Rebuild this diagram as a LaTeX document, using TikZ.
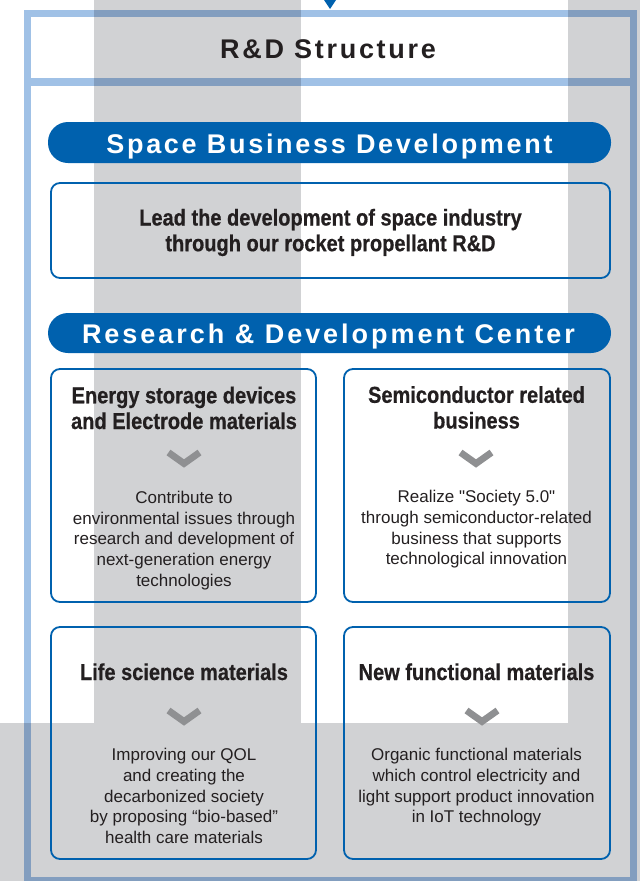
\documentclass[tikz,border=0pt]{standalone}
\usepackage{fontspec}
\setmainfont{Liberation Sans}[Ligatures=TeXOff]
\newfontfamily\trackfont{Liberation Sans}[LetterSpace=10]
\newfontfamily\trackwide{Liberation Sans}[LetterSpace=11]
\newfontfamily\condfont{Liberation Sans}[FakeStretch=0.87, FakeBold=0.6]

\definecolor{rdblue}{HTML}{0061AE}
\definecolor{framecol}{HTML}{A0C1E6}
\definecolor{bandcol}{HTML}{D1D2D4}
\definecolor{chevgray}{HTML}{8F9092}
\definecolor{ink}{HTML}{231F20}

\begin{document}
\begin{tikzpicture}[x=1pt,y=-1pt,
  pill/.style={fill=rdblue, rounded corners=20, minimum width=563,
    minimum height=41, inner sep=0},
  pilltext/.style={text=white, anchor=base, inner sep=0,
    font=\trackfont\bfseries\fontsize{27}{32}\selectfont},
  card/.style={draw=rdblue, line width=1.8, rounded corners=9, inner sep=0},
  head/.style={font=\condfont\bfseries\fontsize{23}{25.7}\selectfont, text=ink,
    align=center, anchor=base, inner sep=0},
  body/.style={font=\fontsize{17}{20.7}\selectfont, text=ink,
    align=center, anchor=base, inner sep=0},
  chev/.style={draw=chevgray, line width=6.8},
  titletext/.style={font=\trackfont\bfseries\fontsize{27}{32}\selectfont, text=ink,
    anchor=base, inner sep=0}
]
\useasboundingbox (0,0) rectangle (640,881);

% outer frame and title separator
\draw[framecol, line width=7] (27.5,13.5) rectangle (633.5,880.5);
\fill[framecol] (28,78) rectangle (635,86);

% background bands, multiplied over the frame
\begin{scope}[blend mode=multiply]
  \fill[bandcol] (94,0) rectangle (301,723);
  \fill[bandcol] (568,0) rectangle (640,723);
  \fill[bandcol] (0,723) rectangle (640,881);
\end{scope}

% incoming arrow head
\fill[rdblue] (324,0) -- (336,0) -- (330,9) -- cycle;

% title
\node[titletext] (title) at (328,58) {R\&D Structure};

% space business (multi-line texts are placed by the baseline of their last line)
\node[pill] (space) at (329.5,142.5) {};
\node[pilltext] (spacetxt) at (329.5,153) {Space Business Development};
\node[card, minimum width=559, minimum height=95] (leadbox) at (330.5,230.5) {};
\node[head] (leadtxt) at (330.5,251.2) {Lead the development of space industry\\through our rocket propellant R\&D};

% research centre
\node[pill, minimum height=40] (rdc) at (329.5,333) {};
\node[pilltext, font=\trackwide\bfseries\fontsize{27}{32}\selectfont] (rdctxt) at (328.5,343.3) {Research \& Development Center};

% four fields
\node[card, minimum width=265, minimum height=233] (boxA) at (183.5,485.5) {};
\node[card, minimum width=266, minimum height=233] (boxB) at (477,485.5) {};
\node[card, minimum width=265, minimum height=232] (boxC) at (183.5,743) {};
\node[card, minimum width=266, minimum height=232] (boxD) at (477,743) {};

\node[head] (headA) at (184,429) {Energy storage devices\\and Electrode materials};
\node[head] (headB) at (476.5,428.5) {Semiconductor related\\business};
\node[head] (headC) at (184,680) {Life science materials};
\node[head] (headD) at (476.5,680) {New functional materials};

\coordinate (chevA) at (184,463.5);
\coordinate (chevB) at (476,463.5);
\coordinate (chevC) at (184,721.5);
\coordinate (chevD) at (482,721.5);
\foreach \c in {chevA,chevB,chevC,chevD}{
  \draw[chev] ([shift={(-15.5,-11)}]\c) -- (\c) -- ([shift={(15.5,-11)}]\c);
}

\node[body] (bodyA) at (184,586.1) {Contribute to\\environmental issues through\\research and development of\\next-generation energy\\technologies};
\node[body] (bodyB) at (476.5,564.8) {Realize "Society 5.0"\\through semiconductor-related\\business that supports\\technological innovation};
\node[body] (bodyC) at (184,843.5) {Improving our QOL\\and creating the\\decarbonized society\\by proposing “bio-based”\\health care materials};
\node[body] (bodyD) at (476.5,822.8) {Organic functional materials\\which control electricity and\\light support product innovation\\in IoT technology};
\end{tikzpicture}
\end{document}
